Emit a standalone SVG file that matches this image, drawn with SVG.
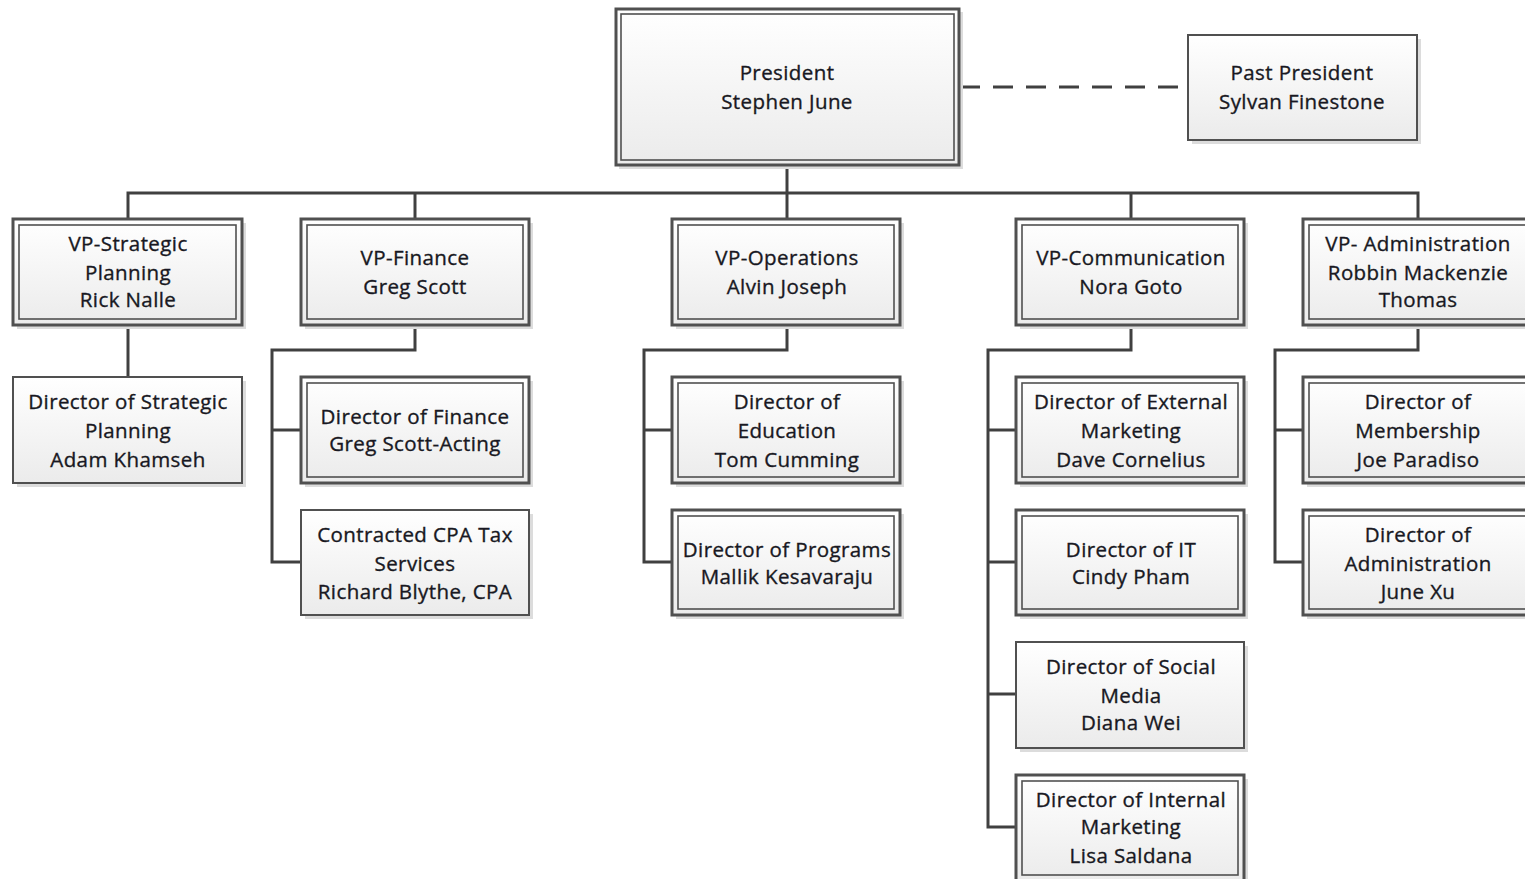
<svg xmlns="http://www.w3.org/2000/svg" width="1525" height="879" viewBox="0 0 1525 879">
<defs>
<linearGradient id="fill" x1="0" y1="0" x2="0" y2="1">
<stop offset="0" stop-color="#ffffff"/>
<stop offset="1" stop-color="#ebebeb"/>
</linearGradient>
<style>
.sh{fill:#dcdcdc;}
.bx{fill:url(#fill);stroke:#505050;stroke-width:2;}
.ob{fill:url(#fill);stroke:#505050;stroke-width:3;}
.ib{fill:none;stroke:#505050;stroke-width:1.6;}
.t{font-family:"Open Sans","Noto Sans","Liberation Sans",sans-serif;font-size:20.5px;font-weight:500;letter-spacing:0.4px;fill:#181822;stroke:#181822;stroke-width:0.35px;text-anchor:middle;}
.ln{fill:none;stroke:#404040;stroke-width:3;}
.dl{fill:none;stroke:#404040;stroke-width:3;stroke-dasharray:20 13;}
</style>
</defs>
<rect width="1525" height="879" fill="#ffffff"/>
<g id="connectors">
<polyline class="ln" points="787,165 787,193"/>
<polyline class="ln" points="128,219 128,193 1418,193 1418,219"/>
<polyline class="ln" points="415,193 415,219"/>
<polyline class="ln" points="787,193 787,219"/>
<polyline class="ln" points="1131,193 1131,219"/>
<line class="dl" x1="960" y1="87" x2="1188" y2="87"/>
<polyline class="ln" points="128,325 128,377"/>
<polyline class="ln" points="415,325 415,350 272,350 272,562 301,562"/>
<polyline class="ln" points="272,430 301,430"/>
<polyline class="ln" points="787,325 787,350 644,350 644,562 672,562"/>
<polyline class="ln" points="644,430 672,430"/>
<polyline class="ln" points="1131,325 1131,350 988,350 988,827 1016,827"/>
<polyline class="ln" points="988,430 1016,430"/>
<polyline class="ln" points="988,562 1016,562"/>
<polyline class="ln" points="988,694 1016,694"/>
<polyline class="ln" points="1418,325 1418,350 1275,350 1275,562 1303,562"/>
<polyline class="ln" points="1275,430 1303,430"/>
</g>
<g id="president">
<rect class="sh" x="619" y="12" width="344" height="157"/>
<rect class="ob" x="616" y="9" width="343" height="156"/>
<rect class="ib" x="621" y="14" width="333" height="146"/>
<text class="t" x="787" y="80">President</text>
<text class="t" x="787" y="109">Stephen June</text>
</g>
<g id="past-president">
<rect class="sh" x="1192" y="39" width="229" height="105"/>
<rect class="bx" x="1188" y="35" width="229" height="105"/>
<text class="t" x="1302" y="80">Past President</text>
<text class="t" x="1302" y="109">Sylvan Finestone</text>
</g>
<g id="vp-strategic">
<rect class="sh" x="17" y="223" width="229" height="106"/>
<rect class="ob" x="13" y="219" width="229" height="106"/>
<rect class="ib" x="19" y="225" width="217" height="94"/>
<text class="t" x="128" y="251">VP-Strategic</text>
<text class="t" x="128" y="280">Planning</text>
<text class="t" x="128" y="307">Rick Nalle</text>
</g>
<g id="vp-finance">
<rect class="sh" x="305" y="223" width="228" height="106"/>
<rect class="ob" x="301" y="219" width="228" height="106"/>
<rect class="ib" x="307" y="225" width="216" height="94"/>
<text class="t" x="415" y="265">VP-Finance</text>
<text class="t" x="415" y="294">Greg Scott</text>
</g>
<g id="vp-operations">
<rect class="sh" x="676" y="223" width="228" height="106"/>
<rect class="ob" x="672" y="219" width="228" height="106"/>
<rect class="ib" x="678" y="225" width="216" height="94"/>
<text class="t" x="787" y="265">VP-Operations</text>
<text class="t" x="787" y="294">Alvin Joseph</text>
</g>
<g id="vp-communication">
<rect class="sh" x="1020" y="223" width="228" height="106"/>
<rect class="ob" x="1016" y="219" width="228" height="106"/>
<rect class="ib" x="1022" y="225" width="216" height="94"/>
<text class="t" x="1131" y="265">VP-Communication</text>
<text class="t" x="1131" y="294">Nora Goto</text>
</g>
<g id="vp-administration">
<rect class="sh" x="1307" y="223" width="229" height="106"/>
<rect class="ob" x="1303" y="219" width="229" height="106"/>
<rect class="ib" x="1309" y="225" width="217" height="94"/>
<text class="t" x="1418" y="251">VP- Administration</text>
<text class="t" x="1418" y="280">Robbin Mackenzie</text>
<text class="t" x="1418" y="307">Thomas</text>
</g>
<g id="dir-strategic-planning">
<rect class="sh" x="17" y="381" width="229" height="106"/>
<rect class="bx" x="13" y="377" width="229" height="106"/>
<text class="t" x="128" y="409">Director of Strategic</text>
<text class="t" x="128" y="438">Planning</text>
<text class="t" x="128" y="467">Adam Khamseh</text>
</g>
<g id="dir-finance">
<rect class="sh" x="305" y="381" width="228" height="106"/>
<rect class="ob" x="301" y="377" width="228" height="106"/>
<rect class="ib" x="307" y="383" width="216" height="94"/>
<text class="t" x="415" y="424">Director of Finance</text>
<text class="t" x="415" y="451">Greg Scott-Acting</text>
</g>
<g id="contracted-cpa">
<rect class="sh" x="305" y="514" width="228" height="105"/>
<rect class="bx" x="301" y="510" width="228" height="105"/>
<text class="t" x="415" y="542">Contracted CPA Tax</text>
<text class="t" x="415" y="571">Services</text>
<text class="t" x="415" y="599">Richard Blythe, CPA</text>
</g>
<g id="dir-education">
<rect class="sh" x="676" y="381" width="228" height="106"/>
<rect class="ob" x="672" y="377" width="228" height="106"/>
<rect class="ib" x="678" y="383" width="216" height="94"/>
<text class="t" x="787" y="409">Director of</text>
<text class="t" x="787" y="438">Education</text>
<text class="t" x="787" y="467">Tom Cumming</text>
</g>
<g id="dir-programs">
<rect class="sh" x="676" y="514" width="228" height="105"/>
<rect class="ob" x="672" y="510" width="228" height="105"/>
<rect class="ib" x="678" y="516" width="216" height="93"/>
<text class="t" x="787" y="557">Director of Programs</text>
<text class="t" x="787" y="584">Mallik Kesavaraju</text>
</g>
<g id="dir-external-marketing">
<rect class="sh" x="1020" y="381" width="228" height="106"/>
<rect class="ob" x="1016" y="377" width="228" height="106"/>
<rect class="ib" x="1022" y="383" width="216" height="94"/>
<text class="t" x="1131" y="409">Director of External</text>
<text class="t" x="1131" y="438">Marketing</text>
<text class="t" x="1131" y="467">Dave Cornelius</text>
</g>
<g id="dir-it">
<rect class="sh" x="1020" y="514" width="228" height="105"/>
<rect class="ob" x="1016" y="510" width="228" height="105"/>
<rect class="ib" x="1022" y="516" width="216" height="93"/>
<text class="t" x="1131" y="557">Director of IT</text>
<text class="t" x="1131" y="584">Cindy Pham</text>
</g>
<g id="dir-social-media">
<rect class="sh" x="1020" y="646" width="228" height="106"/>
<rect class="bx" x="1016" y="642" width="228" height="106"/>
<text class="t" x="1131" y="674">Director of Social</text>
<text class="t" x="1131" y="703">Media</text>
<text class="t" x="1131" y="730">Diana Wei</text>
</g>
<g id="dir-internal-marketing">
<rect class="sh" x="1020" y="779" width="228" height="106"/>
<rect class="ob" x="1016" y="775" width="228" height="106"/>
<rect class="ib" x="1022" y="781" width="216" height="94"/>
<text class="t" x="1131" y="807">Director of Internal</text>
<text class="t" x="1131" y="834">Marketing</text>
<text class="t" x="1131" y="863">Lisa Saldana</text>
</g>
<g id="dir-membership">
<rect class="sh" x="1307" y="381" width="229" height="106"/>
<rect class="ob" x="1303" y="377" width="229" height="106"/>
<rect class="ib" x="1309" y="383" width="217" height="94"/>
<text class="t" x="1418" y="409">Director of</text>
<text class="t" x="1418" y="438">Membership</text>
<text class="t" x="1418" y="467">Joe Paradiso</text>
</g>
<g id="dir-administration">
<rect class="sh" x="1307" y="514" width="229" height="105"/>
<rect class="ob" x="1303" y="510" width="229" height="105"/>
<rect class="ib" x="1309" y="516" width="217" height="93"/>
<text class="t" x="1418" y="542">Director of</text>
<text class="t" x="1418" y="571">Administration</text>
<text class="t" x="1418" y="599">June Xu</text>
</g>
</svg>
